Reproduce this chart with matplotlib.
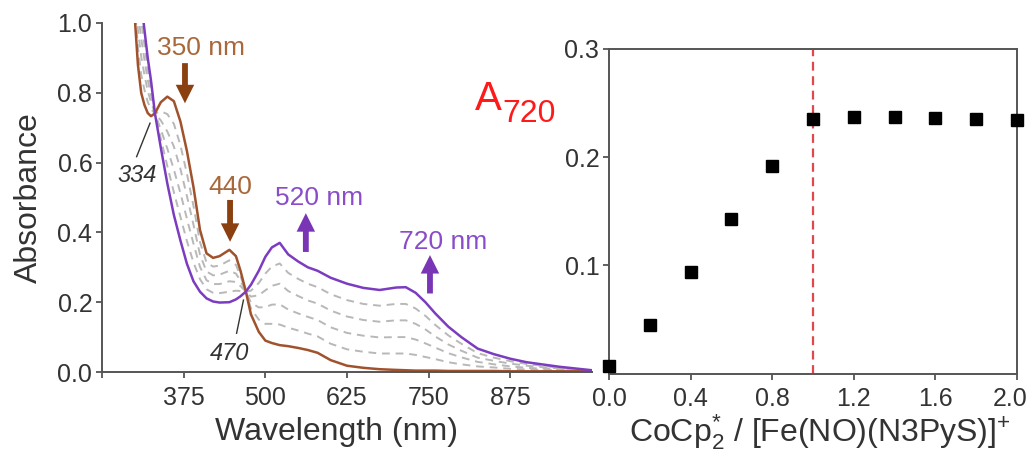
import matplotlib
matplotlib.use("Agg")
import matplotlib.pyplot as plt
import matplotlib.transforms as mtransforms

plt.rcParams['font.family'] = ['Liberation Sans', 'DejaVu Sans']
plt.rcParams['mathtext.default'] = 'regular'

# ---------------- data ----------------
wavelength = [300, 305, 310, 315, 320, 325, 331, 340, 350, 360, 370, 380, 390, 400, 410,
              420, 430, 445, 455, 462, 470, 478, 490, 500, 510, 522, 535, 550, 565, 580,
              600, 625, 650, 675, 700, 715, 730, 745, 760, 780, 800, 825, 850, 875, 900,
              950, 1000]

abs_start = [1.02, 0.88, 0.80, 0.765, 0.742, 0.733, 0.741, 0.773, 0.789, 0.776, 0.718, 0.633,
             0.53, 0.407, 0.34, 0.327, 0.332, 0.35, 0.332, 0.29, 0.232, 0.165, 0.115, 0.09,
             0.083, 0.077, 0.074, 0.069, 0.063, 0.055, 0.034, 0.018, 0.012, 0.008, 0.006,
             0.005, 0.004, 0.004, 0.004, 0.003, 0.003, 0.003, 0.003, 0.002, 0.002, 0.002, 0.002]

abs_end = [1.20, 1.13, 1.06, 0.98, 0.90, 0.835, 0.741, 0.643, 0.54, 0.45, 0.377, 0.31,
           0.26, 0.23, 0.211, 0.202, 0.199, 0.20, 0.208, 0.217, 0.230, 0.25, 0.29, 0.33,
           0.357, 0.37, 0.337, 0.317, 0.30, 0.29, 0.27, 0.253, 0.241, 0.235, 0.242,
           0.243, 0.227, 0.20, 0.168, 0.13, 0.10, 0.067, 0.051, 0.038, 0.028, 0.015, 0.005]

abs_02 = [1.056, 0.93, 0.852, 0.808, 0.774, 0.753, 0.741, 0.747, 0.739, 0.711, 0.65, 0.568,
          0.476, 0.372, 0.314, 0.302, 0.305, 0.32, 0.307, 0.275, 0.232, 0.182, 0.15, 0.138,
          0.138, 0.136, 0.127, 0.119, 0.110, 0.102, 0.081, 0.065, 0.058, 0.053, 0.053,
          0.053, 0.049, 0.043, 0.037, 0.028, 0.022, 0.016, 0.013, 0.009, 0.007, 0.005, 0.003]

abs_04 = [1.092, 0.98, 0.904, 0.851, 0.805, 0.774, 0.741, 0.721, 0.689, 0.646, 0.582, 0.504,
          0.422, 0.336, 0.288, 0.277, 0.279, 0.29, 0.282, 0.261, 0.231, 0.199, 0.185, 0.186,
          0.193, 0.194, 0.179, 0.168, 0.158, 0.149, 0.128, 0.112, 0.104, 0.099, 0.10,
          0.10, 0.093, 0.082, 0.07, 0.054, 0.042, 0.029, 0.022, 0.016, 0.012, 0.007, 0.003]

abs_06 = [1.128, 1.03, 0.956, 0.894, 0.837, 0.794, 0.741, 0.695, 0.64, 0.58, 0.513, 0.439,
          0.368, 0.301, 0.263, 0.252, 0.252, 0.26, 0.258, 0.246, 0.231, 0.216, 0.22, 0.234,
          0.247, 0.253, 0.232, 0.218, 0.205, 0.196, 0.176, 0.159, 0.149, 0.144, 0.148,
          0.148, 0.138, 0.122, 0.102, 0.079, 0.061, 0.041, 0.032, 0.024, 0.018, 0.010, 0.004]

abs_08 = [1.164, 1.08, 1.008, 0.937, 0.868, 0.815, 0.741, 0.669, 0.59, 0.515, 0.445, 0.375,
          0.314, 0.266, 0.237, 0.227, 0.226, 0.23, 0.233, 0.232, 0.230, 0.233, 0.255, 0.282,
          0.302, 0.311, 0.284, 0.267, 0.253, 0.243, 0.223, 0.206, 0.195, 0.190, 0.195,
          0.195, 0.182, 0.161, 0.135, 0.105, 0.081, 0.054, 0.041, 0.031, 0.023, 0.012, 0.004]

equiv = [0.0, 0.2, 0.4, 0.6, 0.8, 1.0, 1.2, 1.4, 1.6, 1.8, 2.0]
a720 = [0.007, 0.045, 0.094, 0.143, 0.192, 0.235, 0.237, 0.237, 0.236, 0.235, 0.234]

left_xticks = [250, 375, 500, 625, 750, 875]
left_xticklabels = ['', '375', '500', '625', '750', '875']
left_yticks = [0.0, 0.2, 0.4, 0.6, 0.8, 1.0]
right_xticks = [0.0, 0.4, 0.8, 1.2, 1.6, 2.0]
right_yticks = [0.1, 0.2, 0.3]

# ---------------- style ----------------
brown = '#a0522d'
brown_arrow = '#8b4010'
brown_text = '#a8683a'
purple = '#7c3cc0'
purple_arrow = '#7a35b5'
purple_text = '#8a4cc9'
spine_c = '#555555'
tick_c = '#333333'
TICK_FS = 18
LABEL_FS = 23

W, H = 1030, 451
fig = plt.figure(figsize=(W / 100, H / 100), dpi=100)

ax1 = fig.add_axes([102 / W, (H - 372) / H, 490 / W, 349 / H])
ax2 = fig.add_axes([609 / W, (H - 373.5) / H, 408 / W, 324.5 / H])

# ---------------- left panel ----------------
for curve in [abs_02, abs_04, abs_06, abs_08]:
    ax1.plot(wavelength, curve, color='#b8b8b8', lw=1.4, linestyle=(0, (4, 3)))
ax1.plot(wavelength, abs_start, color=brown, lw=1.8)
ax1.plot(wavelength, abs_end, color=purple, lw=1.8)

ax1.set_xlim(250, 1000)
ax1.set_ylim(0, 1.0)
ax1.spines['top'].set_visible(False)
ax1.spines['right'].set_visible(False)
for s in ['left', 'bottom']:
    ax1.spines[s].set_color(spine_c)
    ax1.spines[s].set_linewidth(1.4)
ax1.set_xticks(left_xticks)
ax1.set_xticklabels(left_xticklabels)
ax1.set_yticks(left_yticks)
ax1.set_yticklabels([f'{v:.1f}' for v in left_yticks])
ax1.tick_params(axis='both', colors=spine_c, labelcolor=tick_c, labelsize=TICK_FS,
                length=4, width=1.3, direction='out', pad=3)
ax1.tick_params(axis='x', pad=6)
ax1.set_xlabel('Wavelength (nm)', fontsize=LABEL_FS, color=tick_c)
ax1.xaxis.set_label_coords(0.479, -0.128)
ax1.set_ylabel('Absorbance', fontsize=LABEL_FS, color=tick_c)
ax1.yaxis.set_label_coords(-0.118, 0.5)

arrow_kw = dict(arrowstyle='simple,head_length=0.95,head_width=0.95,tail_width=0.3',
                shrinkA=0, shrinkB=0, mutation_scale=14, lw=0)

ax1.annotate('', xy=(377, 0.77), xytext=(377, 0.885),
             arrowprops=dict(fc=brown_arrow, ec=brown_arrow, **arrow_kw))
ax1.annotate('', xy=(446, 0.373), xytext=(446, 0.493),
             arrowprops=dict(fc=brown_arrow, ec=brown_arrow, **arrow_kw))
ax1.annotate('', xy=(562, 0.455), xytext=(562, 0.344),
             arrowprops=dict(fc=purple_arrow, ec=purple_arrow, **arrow_kw))
ax1.annotate('', xy=(752, 0.335), xytext=(752, 0.225),
             arrowprops=dict(fc=purple_arrow, ec=purple_arrow, **arrow_kw))

ax1.text(401, 0.928, '350 nm', color=brown_text, fontsize=19, ha='center', va='center')
ax1.text(447, 0.53, '440', color=brown_text, fontsize=19, ha='center', va='center')
ax1.text(582, 0.499, '520 nm', color=purple_text, fontsize=19, ha='center', va='center')
ax1.text(772, 0.373, '720 nm', color=purple_text, fontsize=19, ha='center', va='center')

ax1.text(304, 0.564, '334', color=tick_c, fontsize=17, style='italic', ha='center', va='center')
ax1.plot([303, 323.5], [0.617, 0.713], color=tick_c, lw=1.0)
ax1.text(444.6, 0.054, '470', color=tick_c, fontsize=17, style='italic', ha='center', va='center')
ax1.plot([456, 466.5], [0.111, 0.206], color=tick_c, lw=1.0)

fig.text(475 / W, 1 - 110 / H, 'A', color='#ff1a1a', fontsize=29, ha='left', va='baseline')
fig.text(502 / W, 1 - 122 / H, '720', color='#ff1a1a', fontsize=23, ha='left', va='baseline')

# ---------------- right panel ----------------
ax2.axvline(1.0, color='#e0484b', lw=1.6, linestyle=(0, (4, 2.5)))
ax2.plot(equiv, a720, linestyle='none', marker='s', markersize=8.5, color='black',
         clip_on=False, zorder=5)
ax2.set_xlim(0, 2.0)
ax2.set_ylim(0, 0.3)
for s in ax2.spines.values():
    s.set_color(spine_c)
    s.set_linewidth(1.4)
ax2.set_xticks(right_xticks)
ax2.set_xticklabels([f'{v:.1f}' for v in right_xticks])
ax2.set_yticks(right_yticks)
ax2.set_yticklabels([f'{v:.1f}' for v in right_yticks])
ax2.tick_params(axis='both', colors=spine_c, labelcolor=tick_c, labelsize=TICK_FS,
                length=4, width=1.3, direction='out', pad=3)
ax2.tick_params(axis='x', pad=6)
last = ax2.get_xticklabels()[-1]
last.set_horizontalalignment('right')
last.set_transform(last.get_transform() +
                   mtransforms.ScaledTranslation(0.11, 0, fig.dpi_scale_trans))
ax2.set_xlabel(r'CoCp$^{*}_{2}$ / [Fe(NO)(N3PyS)]$^{+}$', fontsize=LABEL_FS, color=tick_c)
ax2.xaxis.set_label_coords(0.517, -0.118)

fig.savefig('out.png', dpi=100)
